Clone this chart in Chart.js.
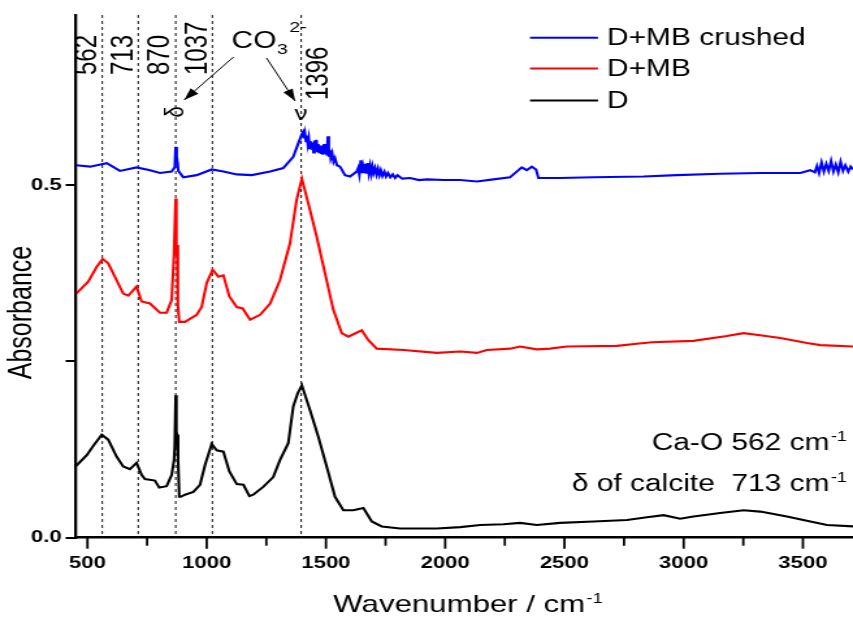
<!DOCTYPE html>
<html><head><meta charset="utf-8">
<script src="https://cdn.jsdelivr.net/npm/chart.js@4.4.1/dist/chart.umd.min.js"></script>
<style>
html,body{margin:0;padding:0;background:#fff;overflow:hidden;}
#wrap{width:656px;height:617px;transform:scaleX(1.30030);transform-origin:0 0;}
canvas{display:block;}
</style></head><body>
<div id="wrap"><canvas id="c" width="656" height="617"></canvas></div>
<script>
// ---- data (wavenumber in cm-1, absorbance) ----
const wnD = [453,497,524,560,587,622,650,678,706,727,741,783,801,832,853,863,866,870,873,876,880,885,891,909,944,972,993,1021,1042,1070,1095,1126,1154,1179,1195,1237,1279,1307,1342,1363,1382,1399,1433,1468,1503,1538,1573,1615,1657,1692,1734,1811,1965,2063,2147,2244,2314,2384,2482,2622,2762,2846,2916,2985,3041,3153,3251,3321,3433,3531,3601,3710];
const absD = [0.102,0.117,0.130,0.146,0.139,0.115,0.101,0.097,0.106,0.089,0.083,0.081,0.071,0.073,0.089,0.110,0.130,0.202,0.150,0.146,0.110,0.058,0.058,0.061,0.065,0.075,0.103,0.133,0.124,0.122,0.094,0.076,0.075,0.059,0.061,0.072,0.086,0.110,0.134,0.186,0.205,0.216,0.181,0.143,0.101,0.058,0.039,0.039,0.042,0.023,0.016,0.013,0.013,0.015,0.018,0.019,0.021,0.018,0.021,0.023,0.025,0.029,0.032,0.027,0.030,0.035,0.039,0.037,0.030,0.023,0.018,0.016];

const wnMB = [453,503,539,564,587,622,650,671,706,727,762,804,832,853,863,866,870,873,876,879,885,909,958,979,1000,1025,1049,1070,1095,1126,1151,1182,1224,1266,1307,1349,1377,1399,1426,1461,1496,1531,1566,1594,1650,1678,1713,1825,1965,2063,2133,2175,2272,2314,2384,2440,2510,2720,2804,2867,3041,3181,3251,3321,3405,3517,3573,3710];
const absMB = [0.346,0.363,0.384,0.395,0.389,0.365,0.346,0.343,0.356,0.335,0.332,0.319,0.319,0.337,0.403,0.440,0.481,0.400,0.415,0.330,0.306,0.306,0.316,0.327,0.361,0.380,0.370,0.372,0.342,0.327,0.325,0.309,0.316,0.332,0.365,0.417,0.479,0.509,0.474,0.427,0.375,0.323,0.290,0.285,0.294,0.280,0.268,0.266,0.262,0.264,0.262,0.266,0.268,0.271,0.267,0.268,0.271,0.272,0.275,0.277,0.279,0.286,0.290,0.287,0.283,0.276,0.273,0.271];

const wnMBc = [453,511,581,636,706,762,804,853,866,870,874,878,881,902,958,1021,1070,1126,1189,1266,1321,1363,1384,1399,1404,1408,1412,1416,1420,1424,1428,1432,1436,1440,1444,1448,1452,1456,1460,1464,1468,1472,1476,1480,1484,1488,1492,1496,1500,1504,1508,1512,1516,1520,1526,1532,1538,1546,1559,1580,1601,1629,1635,1640,1646,1650,1655,1660,1665,1670,1675,1680,1685,1690,1695,1700,1706,1712,1718,1724,1730,1737,1745,1752,1760,1770,1780,1790,1800,1820,1853,1890,1923,1993,2063,2133,2202,2272,2300,2321,2342,2363,2381,2391,2482,2622,2832,2971,3153,3321,3489,3531,3550,3559,3568,3578,3588,3598,3608,3618,3628,3638,3648,3658,3668,3678,3690,3700,3710];
const absMBc = [0.528,0.526,0.531,0.520,0.525,0.521,0.517,0.519,0.525,0.554,0.540,0.531,0.520,0.511,0.514,0.522,0.519,0.515,0.514,0.519,0.524,0.540,0.559,0.572,0.575,0.566,0.573,0.562,0.570,0.558,0.566,0.552,0.562,0.550,0.560,0.546,0.563,0.552,0.564,0.548,0.558,0.545,0.556,0.544,0.555,0.543,0.558,0.544,0.556,0.542,0.569,0.540,0.550,0.538,0.545,0.533,0.538,0.528,0.526,0.514,0.512,0.519,0.524,0.515,0.535,0.517,0.527,0.518,0.530,0.516,0.531,0.517,0.527,0.516,0.526,0.517,0.524,0.515,0.523,0.514,0.521,0.513,0.519,0.512,0.517,0.511,0.515,0.510,0.514,0.509,0.510,0.507,0.508,0.507,0.507,0.505,0.508,0.511,0.519,0.525,0.521,0.526,0.522,0.510,0.510,0.511,0.512,0.514,0.516,0.517,0.517,0.521,0.518,0.527,0.517,0.532,0.519,0.530,0.520,0.534,0.519,0.529,0.518,0.533,0.520,0.528,0.519,0.526,0.522];

const seriesNames = ['D+MB crushed','D+MB','D'];
const seriesColors = ['#0000ff','#ff0000','#000000'];
const xTicks = [500,750,1000,1250,1500,1750,2000,2250,2500,2750,3000,3250,3500];
const yTicks = [0,0.25,0.5];
const markerLines = [562,713,870,1024,1396];
const markerLabels = ['562','713','870','1037','1396'];

// ---- helpers ----
const SX = 853/656;              // horizontal stretch of the figure
const sx = v => v / SX;          // screen-x distance -> canvas-x distance
const FONT = '"Liberation Sans", Arial, sans-serif';
const toXY = (xs, ys) => xs.map((v,i)=>({x:v, y:ys[i]}));

const annot = {
  id:'annot',
  beforeDatasetsDraw(chart){
    const {ctx, chartArea:a, scales:{x}} = chart;
    ctx.save();
    ctx.strokeStyle='#222'; ctx.lineWidth=1.1; ctx.setLineDash([3,3]);
    markerLines.forEach(v=>{
      const p = x.getPixelForValue(v);
      ctx.beginPath(); ctx.moveTo(p,a.top); ctx.lineTo(p,a.bottom); ctx.stroke();
    });
    ctx.restore();
  },
  afterDraw(chart){
    const {ctx, chartArea:a, scales:{x}} = chart;
    ctx.save();
    // x-axis tick marks (major longer than minor)
    ctx.strokeStyle='#000'; ctx.lineWidth=1.8;
    x.ticks.forEach(t=>{
      const p = x.getPixelForValue(t.value);
      const len = (t.value % 500 === 0) ? 11 : 8;
      ctx.beginPath(); ctx.moveTo(p, a.bottom); ctx.lineTo(p, a.bottom + len); ctx.stroke();
    });
    ctx.fillStyle='#000'; ctx.strokeStyle='#000';
    // rotated marker labels
    ctx.font = `24px ${FONT}`;
    markerLines.forEach((v,i)=>{
      const p = x.getPixelForValue(v);
      const last = i === markerLines.length-1;
      const bx = last ? p + sx(27) : p - sx(6);
      const by = last ? 100 : 75;
      ctx.save(); ctx.translate(bx,by); ctx.rotate(-Math.PI/2);
      ctx.textAlign='left'; ctx.textBaseline='alphabetic';
      ctx.fillText(markerLabels[i],0,0); ctx.restore();
    });
    // delta and nu symbols
    const p870 = x.getPixelForValue(870), p1396 = x.getPixelForValue(1396);
    ctx.font = `20px ${FONT}`;
    ctx.save(); ctx.translate(p870, 112); ctx.rotate(-Math.PI/2);
    ctx.textAlign='center'; ctx.textBaseline='middle'; ctx.fillText('δ',0,0); ctx.restore();
    ctx.textAlign='center'; ctx.textBaseline='middle'; ctx.fillText('ν', p1396, 114);
    // CO3 2-
    ctx.textAlign='left'; ctx.textBaseline='alphabetic';
    ctx.font = `23px ${FONT}`;
    const cx0 = sx(231.5);
    ctx.fillText('CO', cx0, 48);
    const wCO = ctx.measureText('CO').width;
    ctx.font = `15px ${FONT}`;
    ctx.fillText('3', cx0 + wCO + 0.5, 54);
    ctx.fillText('2-', cx0 + wCO + sx(13), 32);
    // arrows
    ctx.lineWidth = 1;
    const arrow = (x1,y1,x2,y2)=>{
      ctx.beginPath(); ctx.moveTo(x1,y1); ctx.lineTo(x2,y2); ctx.stroke();
      const ang=Math.atan2(y2-y1,x2-x1), L=12, W=4;
      ctx.beginPath(); ctx.moveTo(x2,y2);
      ctx.lineTo(x2-L*Math.cos(ang)+W*Math.sin(ang), y2-L*Math.sin(ang)-W*Math.cos(ang));
      ctx.lineTo(x2-L*Math.cos(ang)-W*Math.sin(ang), y2-L*Math.sin(ang)+W*Math.cos(ang));
      ctx.closePath(); ctx.fill();
    };
    arrow(sx(233.5), 57, p870 + sx(8.5), 100);
    arrow(sx(266.5), 58, p1396 - sx(6), 101);
    // legend
    const legY = [37.7, 68.5, 100.5];
    chart.data.datasets.forEach((ds,i)=>{
      ctx.strokeStyle = ds.borderColor; ctx.lineWidth = 2;
      ctx.beginPath(); ctx.moveTo(sx(530), legY[i]); ctx.lineTo(sx(598), legY[i]); ctx.stroke();
      ctx.fillStyle='#000'; ctx.font = `23px ${FONT}`;
      ctx.textAlign='left'; ctx.textBaseline='middle';
      ctx.fillText(ds.label, sx(607), legY[i]+1);
    });
    // notes bottom right
    const supText = (main, sup, rightX, baseY, big, small, align)=>{
      ctx.textBaseline='alphabetic'; ctx.textAlign='left';
      ctx.font = `${big}px ${FONT}`; const w1 = ctx.measureText(main).width;
      ctx.font = `${small}px ${FONT}`; const w2 = ctx.measureText(sup).width;
      const x0 = align==='center' ? rightX - (w1+w2+1)/2 : rightX - w1 - w2 - 1;
      ctx.font = `${big}px ${FONT}`; ctx.fillText(main, x0, baseY);
      ctx.font = `${small}px ${FONT}`; ctx.fillText(sup, x0 + w1 + 1, baseY - 9);
    };
    ctx.fillStyle='#000';
    supText('Ca-O 562 cm', '-1', sx(847), 450, 23, 14);
    supText('δ of calcite  713 cm', '-1', sx(847), 491, 23, 14);
    // axis titles
    supText('Wavenumber / cm', '-1', sx(468), 612, 24, 14, 'center');
    ctx.font = `25px ${FONT}`;
    ctx.save(); ctx.translate(sx(22.5), 312.5); ctx.rotate(-Math.PI/2);
    ctx.textAlign='center'; ctx.textBaseline='middle'; ctx.fillText('Absorbance',0,0); ctx.restore();
    ctx.restore();
  }
};

const series = [toXY(wnMBc, absMBc), toXY(wnMB, absMB), toXY(wnD, absD)];

new Chart(document.getElementById('c'), {
  type:'line',
  data:{
    datasets: series.map((d,i)=>({
      label: seriesNames[i], data: d,
      borderColor: seriesColors[i], backgroundColor: seriesColors[i],
      borderWidth: 2.1, pointRadius: 0, tension: 0, fill:false
    }))
  },
  options:{
    responsive:false, animation:false, devicePixelRatio:1,
    layout:{padding:{top:15,left:0,right:0,bottom:0}},
    plugins:{legend:{display:false}, tooltip:{enabled:false}},
    scales:{
      x:{
        type:'linear', min:452, max:3710,
        afterBuildTicks: s => { s.ticks = xTicks.map(v=>({value:v})); },
        afterFit: s => { s.height = 617 - 537.7; },
        ticks:{autoSkip:false, maxRotation:0, padding:15, color:'#000',
          font:{family:FONT, size:17, weight:'bold'},
          callback: v => (v % 500 === 0 ? String(v) : '')},
        grid:{display:false, drawTicks:false, tickLength:0},
        border:{display:true, color:'#000', width:2.5}
      },
      y:{
        type:'linear', min:0, max:0.741,
        afterBuildTicks: s => { s.ticks = yTicks.map(v=>({value:v})); },
        afterFit: s => { s.width = 76 / SX; },
        ticks:{autoSkip:false, padding:3, color:'#000',
          font:{family:FONT, size:17, weight:'bold'},
          callback: v => (v === 0 ? '0.0' : v === 0.5 ? '0.5' : '')},
        grid:{display:true, drawOnChartArea:false, drawTicks:true, tickLength:8, tickColor:'#000', tickWidth:2, lineWidth:2, color:'#000'},
        border:{display:true, color:'#000', width:2.3}
      }
    }
  },
  plugins:[annot]
});
</script>
</body></html>
